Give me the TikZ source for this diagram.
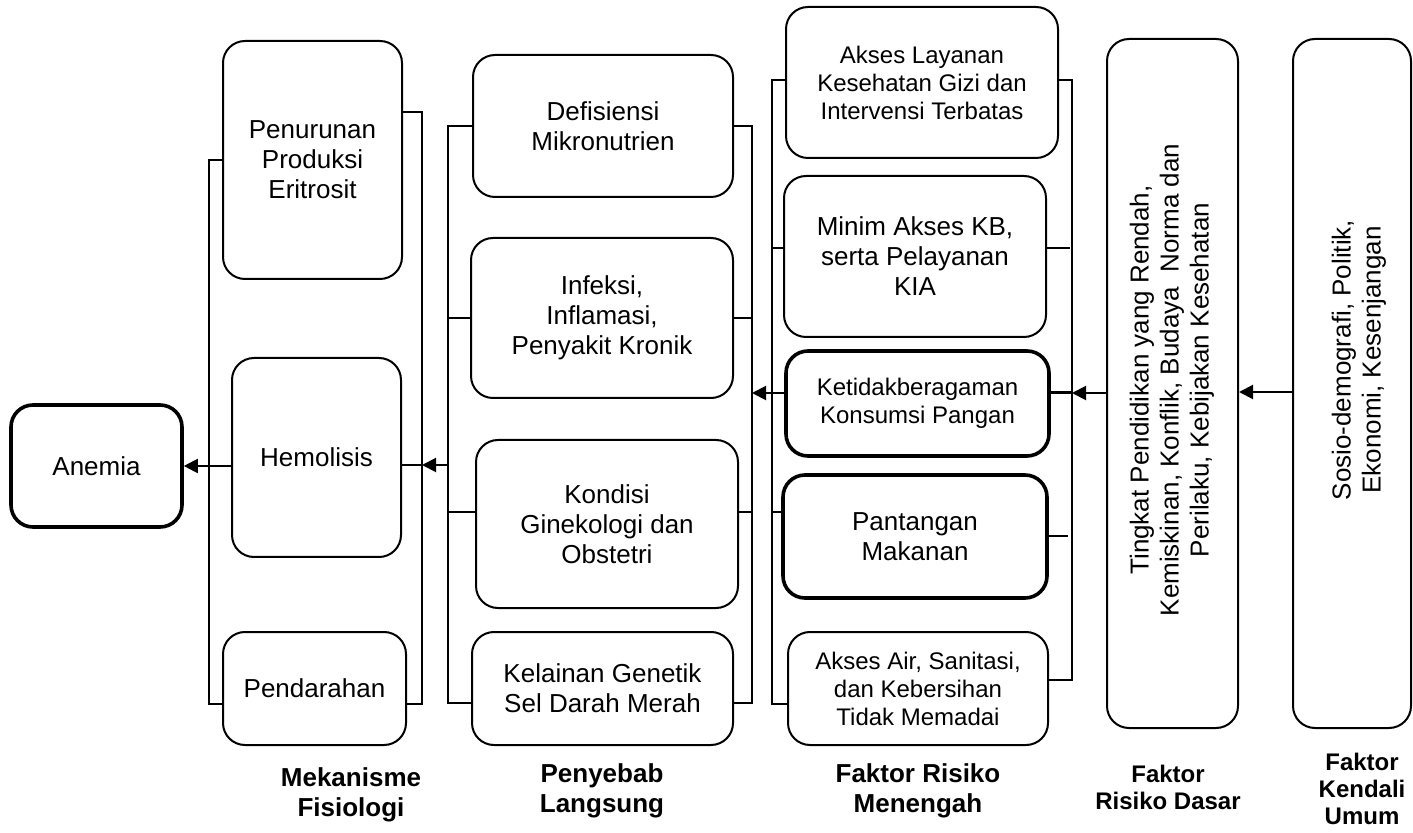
\documentclass[tikz,border=0pt]{standalone}
\usepackage{fontspec}
\setmainfont{Liberation Sans}
\usetikzlibrary{arrows.meta, positioning}

\begin{document}
\begin{tikzpicture}[x=0.5pt, y=-0.5pt,
    box/.style={draw, rounded corners=11pt, line width=1pt, align=center, inner sep=0pt,
      font=\fontsize{13}{15}\selectfont},
    boxsm/.style={box, font=\fontsize{12}{14}\selectfont},
    heavy/.style={line width=1.8pt},
    vtext/.style={rotate=90, align=center, font=\fontsize{13}{15}\selectfont},
    heading/.style={align=center, font=\fontsize{13}{15}\selectfont\bfseries},
    headsm/.style={align=center, font=\fontsize{12}{13.5}\selectfont\bfseries},
    link/.style={line width=1pt},
    arr/.style={line width=1pt, -{Triangle[length=7pt, width=7pt]}}]
    \useasboundingbox (0,0) rectangle (1413,833);

    % outcome
    \node[box, heavy, minimum width=85.5pt, minimum height=61pt] (anemia) at (96.5,466) {Anemia};

    % mekanisme fisiologi
    \node[box, minimum width=89.5pt, minimum height=119pt] (penurunan) at (312.5,160) {Penurunan\\Produksi\\Eritrosit};
    \node[box, minimum width=84.5pt, minimum height=99.5pt] (hemolisis) at (316.5,457.5) {Hemolisis};
    \node[box, minimum width=91.5pt, minimum height=56.5pt] (pendarahan) at (314.5,688.5) {Pendarahan};

    % penyebab langsung
    \node[box, minimum width=130pt, minimum height=71pt] (defisiensi) at (603,126) {Defisiensi\\Mikronutrien};
    \node[box, minimum width=131pt, minimum height=80pt] (infeksi) at (602,318) {Infeksi,\\Inflamasi,\\Penyakit Kronik};
    \node[box, minimum width=131pt, minimum height=84pt] (kondisi) at (607,524) {Kondisi\\Ginekologi dan\\Obstetri};
    \node[box, minimum width=130.5pt, minimum height=56.5pt] (kelainan) at (602.5,688.5) {Kelainan Genetik\\Sel Darah Merah};

    % faktor risiko menengah
    \node[boxsm, minimum width=136pt, minimum height=75.5pt] (layanan) at (922,82.5) {Akses Layanan\\Kesehatan Gizi dan\\Intervensi Terbatas};
    \node[box, minimum width=131pt, minimum height=80.5pt] (minim) at (915,256.5) {Minim Akses KB,\\serta Pelayanan\\KIA};
    \node[boxsm, heavy, minimum width=131.5pt, minimum height=52.5pt] (pangan) at (917.5,403.5) {Ketidakberagaman\\Konsumsi Pangan};
    \node[box, heavy, minimum width=132pt, minimum height=61.5pt] (pantangan) at (915,536.5) {Pantangan\\Makanan};
    \node[boxsm, minimum width=130pt, minimum height=56.5pt] (sanitasi) at (918,688.5) {Akses Air, Sanitasi,\\dan Kebersihan\\Tidak Memadai};

    % faktor dasar dan kendali
    \node[box, minimum width=65.5pt, minimum height=344.5pt] (dasar) at (1172.5,383.5) {};
    \node[vtext] (dasartext) at (1172,380) {Tingkat Pendidikan yang Rendah,\\Kemiskinan, Konflik, Budaya\ \ Norma dan\\Perilaku, Kebijakan Kesehatan};
    \node[box, minimum width=59pt, minimum height=344.5pt] (kendali) at (1352,383.5) {};
    \node[vtext] (kendalitext) at (1359,360) {Sosio-demografi, Politik,\\Ekonomi, Kesenjangan};

    % column titles
    \node[heading] (t1) at (351,795) {Mekanisme\\Fisiologi};
    \node[heading] (t2) at (602,791) {Penyebab\\Langsung};
    \node[heading] (t3) at (918,791) {Faktor Risiko\\Menengah};
    \node[headsm] (t4) at (1168,787) {Faktor\\Risiko Dasar};
    \node[headsm] (t5) at (1362,789) {Faktor\\Kendali\\Umum};

    % bracket spines
    \coordinate (sp1l) at (209,704);
    \coordinate (sp1r) at (422,704);
    \coordinate (sp2l) at (448,703);
    \coordinate (sp2r) at (752,703);
    \coordinate (sp3l) at (772,704);
    \coordinate (sp3r) at (1072,680);

    % brackets round column 1
    \draw[link] (penurunan.west) -| (sp1l) -- (pendarahan.west |- sp1l);
    \draw[link] (penurunan.east |- 0,112) -| (sp1r) -- (pendarahan.east |- sp1r);
    \draw[link] (hemolisis.east |- 0,465) -- (sp1r |- 0,465);
    \draw[arr] (hemolisis.west |- anemia.east) -- (anemia.east);

    % brackets round column 2
    \draw[link] (defisiensi.west) -| (sp2l) -- (kelainan.west |- sp2l);
    \draw[link] (defisiensi.east) -| (sp2r) -- (kelainan.east |- sp2r);
    \draw[link] (infeksi.west) -- (infeksi.west -| sp2l);
    \draw[link] (infeksi.east) -- (infeksi.east -| sp2r);
    \draw[link] (kondisi.west |- 0,512) -- (sp2l |- 0,512);
    \draw[link] (kondisi.east |- 0,512) -- (sp2r |- 0,512);
    \draw[arr] (sp2l |- 0,465) -- (sp1r |- 0,465);

    % brackets round column 3
    \draw[link] (layanan.west |- 0,80) -| (sp3l) -- (sanitasi.west |- sp3l);
    \draw[link] (layanan.east |- 0,80) -| (sp3r) -- (sanitasi.east |- sp3r);
    \draw[link] (minim.west |- 0,248) -- (sp3l |- 0,248);
    \draw[link] (minim.east |- 0,248) -- (1070,248);
    \draw[link] (pantangan.west |- 0,512) -- (sp3l |- 0,512);
    \draw[link] (pantangan.east |- 0,536) -- (1068,536);
    \draw[line width=1.5pt] (pangan.east |- 0,393) -- (sp3r |- 0,393);
    \draw[arr] (pangan.west |- 0,393) -- (sp2r |- 0,393);

    % arrows from the right
    \draw[arr] (dasar.west |- 0,393) -- (sp3r |- 0,393);
    \draw[arr] (kendali.west |- 0,392) -- (dasar.east |- 0,392);
\end{tikzpicture}
\end{document}
